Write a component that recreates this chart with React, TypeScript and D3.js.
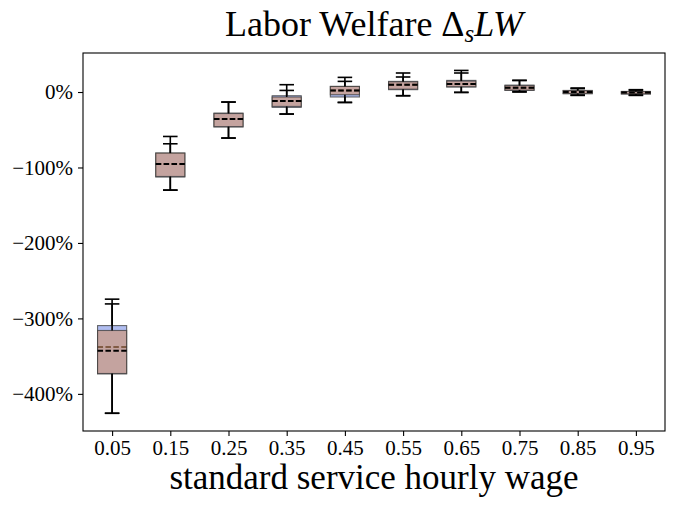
import * as React from 'react';
import { useEffect, useRef } from 'react';
import * as d3 from 'd3';

// wage levels on the x axis
const wages = ['0.05', '0.15', '0.25', '0.35', '0.45', '0.55', '0.65', '0.75', '0.85', '0.95'];

// blue series (percent)
const blueHigh = [-274.5, -58.9, -13.3, 9.7, 19.4, 25.2, 28.6, 15.4, 5.3, 3.1];
const blueQ3 = [-309.5, -80.9, -27.9, -4.9, 7.4, 14.1, 15.4, 9.2, 2.1, 0.8];
const blueQ1 = [-373.6, -112.7, -46.4, -20.4, -6.6, 3.1, 6.6, 2.1, -2.3, -2.7];
const blueLow = [-425.7, -130, -61, -29.2, -13.8, -4.9, -0.5, 0, -4.5, -4.5];
const blueMean = [-338, -95.5, -35.8, -11.8, 2.1, 9.7, 10.6, 5.7, 0, -0.5];

// red series (percent)
const redHigh = [-280.8, -68.6, -13.3, 2.1, 14.1, 19.9, 25.2, 15.4, 4.5, 2.5];
const redQ3 = [-316, -80.9, -28.5, -6.6, 7.4, 13.5, 14.5, 8.5, 1.8, 0.5];
const redQ1 = [-373, -111.9, -45.8, -19.1, -3.6, 3.8, 7, 2.5, -2, -2.4];
const redLow = [-425.7, -130, -61, -29.2, -13.8, -4.9, -0.5, 0.5, -4, -4];
const redMean = [-343, -95.5, -35.8, -11.8, 2.1, 9.7, 10.6, 5.5, 0, -0.5];

const yTicks = [-400, -300, -200, -100, 0];

const width = 674;
const height = 505;
const margin = { top: 53, right: 9, bottom: 74, left: 83 };

function App() {
    const ref = useRef<SVGSVGElement>(null);

    useEffect(() => {
        const svg = d3.select(ref.current);
        svg.selectAll('*').remove();

        const font = "'Liberation Serif', 'DejaVu Serif', serif";

        const x = d3.scaleLinear()
            .domain([0.5, wages.length + 0.5])
            .range([margin.left, width - margin.right]);
        const y = d3.scaleLinear()
            .domain([-449.2, 51.7])
            .range([height - margin.bottom, margin.top]);

        const boxW = x(1.25) - x(1);
        const capW = boxW / 2;

        const series = [
            { high: blueHigh, q3: blueQ3, q1: blueQ1, low: blueLow, mean: blueMean, fill: '#b0bdf0' },
            { high: redHigh, q3: redQ3, q1: redQ1, low: redLow, mean: redMean, fill: 'rgba(209,147,110,0.62)' },
        ];

        const g = svg.append('g');

        series.forEach(s => {
            wages.forEach((w, i) => {
                const cx = x(i + 1);
                // box
                g.append('rect')
                    .attr('x', cx - boxW)
                    .attr('y', y(s.q3[i]))
                    .attr('width', boxW * 2)
                    .attr('height', y(s.q1[i]) - y(s.q3[i]))
                    .attr('fill', s.fill)
                    .attr('stroke', 'rgba(60,60,60,0.75)')
                    .attr('stroke-width', 1.1);
                // whiskers
                g.append('line')
                    .attr('x1', cx).attr('x2', cx)
                    .attr('y1', y(s.q3[i])).attr('y2', y(s.high[i]))
                    .attr('stroke', 'black').attr('stroke-width', 1.6);
                g.append('line')
                    .attr('x1', cx).attr('x2', cx)
                    .attr('y1', y(s.q1[i])).attr('y2', y(s.low[i]))
                    .attr('stroke', 'black').attr('stroke-width', 1.6);
                // caps
                [s.high[i], s.low[i]].forEach(v => {
                    g.append('line')
                        .attr('x1', cx - capW).attr('x2', cx + capW)
                        .attr('y1', y(v)).attr('y2', y(v))
                        .attr('stroke', 'black').attr('stroke-width', 1.6);
                });
                // mean
                g.append('line')
                    .attr('x1', cx - boxW).attr('x2', cx + boxW)
                    .attr('y1', y(s.mean[i])).attr('y2', y(s.mean[i]))
                    .attr('stroke', 'black').attr('stroke-width', 2)
                    .attr('stroke-dasharray', '5.5,2.4');
            });
        });

        // frame
        svg.append('rect')
            .attr('x', margin.left)
            .attr('y', margin.top)
            .attr('width', width - margin.left - margin.right)
            .attr('height', height - margin.top - margin.bottom)
            .attr('fill', 'none')
            .attr('stroke', 'black')
            .attr('stroke-width', 1.1);

        // x axis
        const xAxis = d3.axisBottom(x)
            .tickValues(wages.map((w, i) => i + 1))
            .tickFormat((d, i) => wages[i])
            .tickSize(5)
            .tickPadding(4);
        const xg = svg.append('g')
            .attr('transform', 'translate(0,' + (height - margin.bottom) + ')')
            .call(xAxis);
        xg.select('.domain').remove();
        xg.selectAll('line').attr('stroke-width', 1.1);
        xg.selectAll('text')
            .attr('font-family', font)
            .attr('font-size', 21)
            .attr('fill', 'black');

        // y axis
        const yAxis = d3.axisLeft(y)
            .tickValues(yTicks)
            .tickFormat(d => (+d < 0 ? '\u2212' + Math.abs(+d) : '' + d) + '%')
            .tickSize(5)
            .tickPadding(5);
        const yg = svg.append('g')
            .attr('transform', 'translate(' + margin.left + ',0)')
            .call(yAxis);
        yg.select('.domain').remove();
        yg.selectAll('line').attr('stroke-width', 1.1);
        yg.selectAll('text')
            .attr('font-family', font)
            .attr('font-size', 21)
            .attr('fill', 'black');

        // title
        const title = svg.append('text')
            .attr('x', (margin.left + width - margin.right) / 2)
            .attr('y', 36)
            .attr('text-anchor', 'middle')
            .attr('font-family', font)
            .attr('font-size', 36)
            .attr('fill', 'black');
        title.append('tspan').text('Labor Welfare \u0394');
        title.append('tspan').attr('font-style', 'italic').attr('font-size', 25).attr('dy', 6).text('s');
        title.append('tspan').attr('font-style', 'italic').attr('dy', -6).text('LW');

        // x label
        svg.append('text')
            .attr('x', (margin.left + width - margin.right) / 2)
            .attr('y', 489)
            .attr('text-anchor', 'middle')
            .attr('font-family', font)
            .attr('font-size', 35)
            .attr('fill', 'black')
            .text('standard service hourly wage');
    }, []);

    return (
        <svg ref={ref} width={width} height={height}
            style={{ position: 'absolute', left: 0, top: 0, background: 'white' }} />
    );
}

export default App;
